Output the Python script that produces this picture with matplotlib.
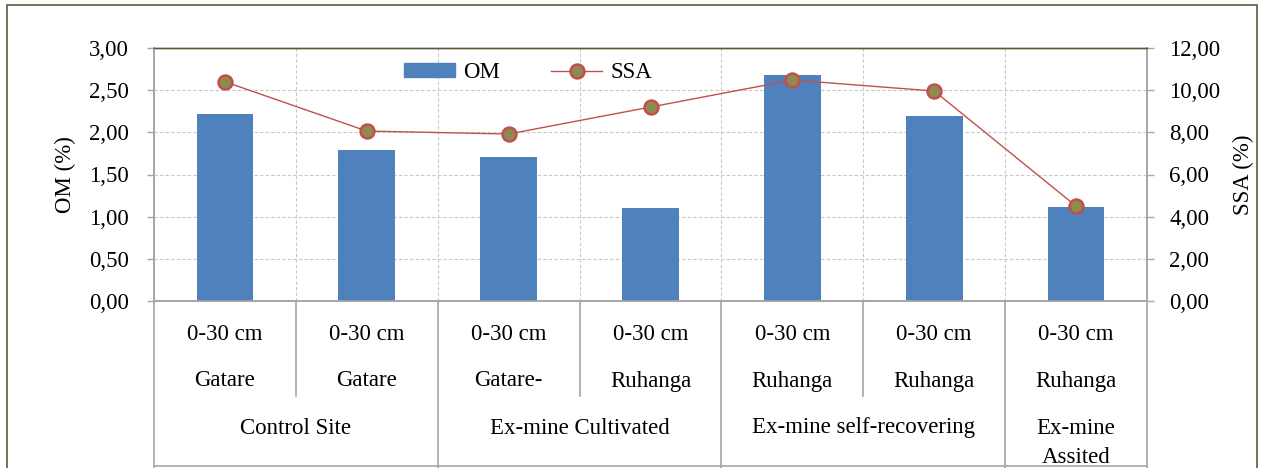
import matplotlib.pyplot as plt
import matplotlib.transforms as mtransforms
from matplotlib.lines import Line2D
from matplotlib.patches import Rectangle, Patch

plt.rcParams['font.family'] = ['Liberation Serif', 'DejaVu Serif']

# data
depth = ['0-30 cm'] * 7
sites = ['Gatare', 'Gatare', 'Gatare-', 'Ruhanga', 'Ruhanga', 'Ruhanga', 'Ruhanga']
groups = ['Control Site', 'Ex-mine Cultivated', 'Ex-mine self-recovering', 'Ex-mine\nAssited']
group_sizes = [2, 2, 2, 1]
om = [2.22, 1.79, 1.71, 1.10, 2.68, 2.19, 1.12]
ssa = [10.40, 8.06, 7.92, 9.20, 10.48, 9.96, 4.50]

W, H = 1264, 468
bar_col = '#4F81BD'
line_col = '#C0504D'
marker_face = '#8F8A50'
frame_col = '#5E5B3D'
axis_col = '#A6A6A6'
grid_col = '#C8C8C8'
fs = 16.5

fig = plt.figure(figsize=(W / 100, H / 100), dpi=100)
ax = fig.add_axes([154 / W, (H - 301) / H, 993 / W, 253 / H])
ax2 = ax.twinx()

x = list(range(len(om)))
ax.bar(x, om, width=0.4, color=bar_col, zorder=3)
ax2.plot(x, ssa, color=line_col, lw=1, marker='o', ms=10,
         mfc=marker_face, mec=line_col, mew=1.8, zorder=4)

ax.set_xlim(-0.5, len(om) - 0.5)
ax.set_ylim(0, 3)
ax2.set_ylim(0, 12)
ax.set_yticks([i * 0.5 for i in range(7)])
ax2.set_yticks([i * 2 for i in range(7)])
ax.set_yticklabels([('%.2f' % v).replace('.', ',') for v in ax.get_yticks()], fontsize=fs)
ax2.set_yticklabels([('%.2f' % v).replace('.', ',') for v in ax2.get_yticks()], fontsize=fs)
ax.set_xticks([])

ax.tick_params(axis='y', length=5, width=1, color=axis_col, pad=13)
ax2.tick_params(axis='y', length=5, width=1, color=axis_col, pad=11)

for a in (ax, ax2):
    for s in ('left', 'right', 'bottom'):
        a.spines[s].set_color(axis_col)
        a.spines[s].set_linewidth(1.2)
    a.spines['top'].set_color(frame_col)
    a.spines['top'].set_linewidth(1)

# gridlines
for v in ax.get_yticks()[1:-1]:
    ax.axhline(v, color=grid_col, lw=0.8, ls=(0, (3, 2)), zorder=1)
for k in range(1, len(om)):
    ax.axvline(k - 0.5, color=grid_col, lw=0.8, ls=(0, (3, 2)), zorder=1)

# multi-level category axis
tr = mtransforms.blended_transform_factory(ax.transData, fig.transFigure)
def fy(py):
    return 1 - py / H

for i in x:
    fig.text(i, fy(334), depth[i], transform=tr, ha='center', va='center', fontsize=fs)
    fig.text(i, fy(381), sites[i], transform=tr, ha='center', va='center', fontsize=fs)

bounds = [-0.5]
for n in group_sizes:
    bounds.append(bounds[-1] + n)
for g, lab in enumerate(groups):
    xc = (bounds[g] + bounds[g + 1]) / 2
    fig.text(xc, fy(428) if '\n' not in lab else fy(443), lab, transform=tr,
             ha='center', va='center', fontsize=fs, linespacing=1.55)

for b in bounds:
    fig.add_artist(Line2D([b, b], [fy(301), fy(470)], transform=tr,
                          color=axis_col, lw=1.2, clip_on=False))
for k in range(len(om) - 1):
    b = k + 0.5
    if b not in bounds:
        fig.add_artist(Line2D([b, b], [fy(301), fy(396)], transform=tr,
                              color=axis_col, lw=1.2, clip_on=False))
fig.add_artist(Line2D([154 / W, 1147 / W], [fy(466), fy(466)],
                      color=axis_col, lw=1.2))

# legend
handles = [Patch(color=bar_col, label='OM'),
           Line2D([], [], color=line_col, lw=1, marker='o', ms=10,
                  mfc=marker_face, mec=line_col, mew=1.8, label='SSA')]
ax.legend(handles=handles, loc='center', bbox_to_anchor=(528 / W, fy(73)),
          bbox_transform=fig.transFigure, ncol=2, frameon=False, fontsize=fs,
          handlelength=2.25, handleheight=0.55, columnspacing=2.2, handletextpad=0.35)

fig.text(65 / W, fy(175), 'OM (%)', rotation=90, ha='center', va='center', fontsize=fs)
fig.text(1243 / W, fy(175), 'SSA (%)', rotation=90, ha='center', va='center', fontsize=fs)

fig.add_artist(Rectangle((7 / W, -0.05), 1250 / W, fy(5) + 0.05,
                         transform=fig.transFigure, fill=False,
                         edgecolor=frame_col, lw=1.2))

fig.savefig('out.png', dpi=100)
